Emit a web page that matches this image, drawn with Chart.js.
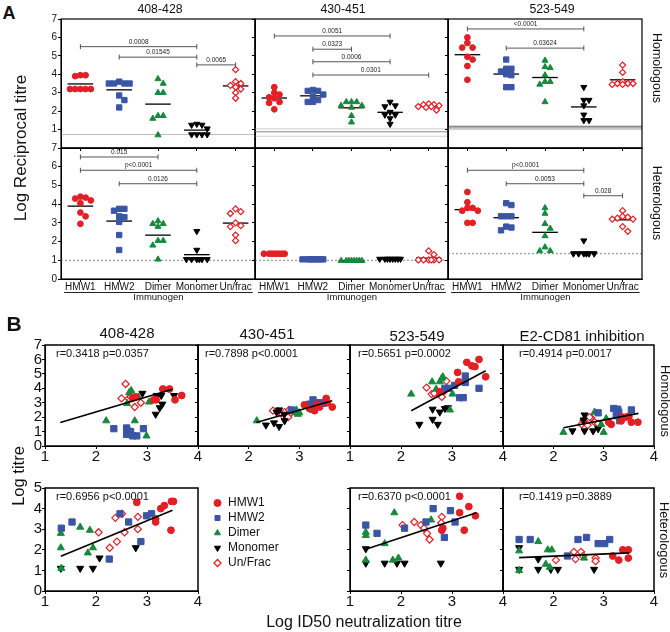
<!DOCTYPE html>
<html><head><meta charset="utf-8">
<script src="https://cdn.jsdelivr.net/npm/chart.js"></script>
<style>
html,body{margin:0;padding:0;background:#fff;}
body{position:relative;width:670px;height:632px;overflow:hidden;font-family:Arial,"Liberation Sans",Helvetica,sans-serif;color:#111;}
canvas{position:absolute;}
.t{position:absolute;white-space:nowrap;line-height:1;}
</style></head><body>
<script>
// ================= DATA =================
const groups = ['HMW1','HMW2','Dimer','Monomer','Un/frac'];
const legendLabels = ['HMW1','HMW2','Dimer','Monomer','Un/Frac'];
const aTitles = ['408-428','430-451','523-549'];
const bTitles = ['408-428','430-451','523-549','E2-CD81 inhibition'];

// Panel A: log reciprocal titre per immunogen group (HMW1, HMW2, Dimer, Monomer, Un/frac)
const aHomo408 = [
  [3.95,3.9,3.95,3.2,3.2,3.2,3.2,3.2],
  [3.6,3.5,3.5,3.5,3.5,2.85,2.6,2.2],
  [3.75,3.5,3.0,3.0,1.75,1.6,1.75,0.7],
  [1.3,1.25,1.25,1.05,0.73,0.73,0.73,0.73],
  [4.25,3.6,3.5,3.4,3.3,3.2,3.0,2.7]
];
const aHomo430 = [
  [3.3,3.0,2.9,2.75,2.7,2.5,2.45,2.1],
  [3.15,3.1,3.1,2.9,2.8,2.6,2.5,2.5],
  [2.5,2.5,2.5,2.3,2.3,2.2,1.75,1.4],
  [2.5,2.3,2.25,1.95,1.8,1.8,1.6,1.3],
  [2.4,2.35,2.35,2.3,2.25,2.25,2.2,2.05]
];
const aHomo523 = [
  [6.0,5.7,5.45,5.45,4.95,4.8,4.45,3.7],
  [4.8,4.3,4.3,4.15,4.0,3.95,3.3,3.3],
  [4.75,4.4,4.35,3.95,3.6,3.6,3.45,2.5],
  [3.3,2.6,2.6,2.3,1.8,1.5,1.5],
  [4.5,4.1,3.6,3.5,3.5,3.5,3.45,3.45]
];
const aHetero408 = [
  [4.4,4.35,4.3,4.2,4.05,3.55,3.35,2.95],
  [3.75,3.75,3.65,3.35,3.3,3.05,2.35,1.55],
  [3.1,2.95,2.95,2.8,2.05,2.05,1.8,1.05],
  [2.55,1.55,1.05,1.05,1.05,1.05,1.05,1.05],
  [3.75,3.6,3.5,3.0,2.85,2.8,2.35,2.05]
];
const aHetero430 = [
  [1.35,1.35,1.35,1.35,1.35,1.35,1.35,1.35],
  [1.05,1.05,1.05,1.05,1.05,1.05,1.05,1.05],
  [0.98,0.98,0.98,0.98,0.98,0.98,0.98,0.98],
  [1.07,1.07,1.07,1.07,1.07,1.07,1.07,1.07],
  [1.5,1.3,1.02,1.02,1.02,1.02,1.02,1.02]
];
const aHetero523 = [
  [4.65,4.1,3.8,3.8,3.65,3.65,3.0,3.0],
  [4.05,3.95,3.35,3.35,3.35,2.8,2.75,2.6],
  [3.8,3.5,2.95,2.7,2.3,1.7,1.5,1.5],
  [2.05,1.35,1.35,1.35,1.35,1.35,1.35],
  [3.65,3.35,3.3,3.25,3.2,3.2,2.8,2.55]
];
// significance brackets: [from, to, level, p-value]
const aHomo408Sig = [['HMW1','Monomer',5.5,'0.0008'],['HMW2','Monomer',4.93,'0.01545'],['Monomer','Un/frac',4.51,'0.0065']];
const aHomo430Sig = [['HMW1','Monomer',6.08,'0.0051'],['HMW2','Dimer',5.36,'0.0323'],['HMW2','Monomer',4.68,'0.0006'],['HMW2','Un/frac',3.96,'0.0301']];
const aHomo523Sig = [['HMW1','Monomer',6.46,'<0.0001'],['HMW2','Monomer',5.42,'0.03624']];
const aHetero408Sig = [['HMW1','Dimer',6.52,'0.015'],['HMW1','Monomer',5.81,'p<0.0001'],['HMW2','Monomer',5.09,'0.0126']];
const aHetero430Sig = [];
const aHetero523Sig = [['HMW1','Monomer',5.81,'p<0.0001'],['HMW2','Monomer',5.09,'0.0053'],['Monomer','Un/frac',4.45,'0.028']];
// detection-limit reference lines
const aHomoLod = [[0.73],[1.04,0.88,0.64],[1.18,1.09,1.0]];
const aHeteroLod = [[1.0],[1.0],[1.35]];

// Panel B: [log ID50 neutralization titre, log titre] per group
const bHomo408 = [
  [[2.72,3.35],[2.78,3.4],[3.13,3.2],[3.18,3.2],[3.31,3.95],[3.44,3.95],[3.55,3.2],[3.68,3.5]],
  [[2.35,1.2],[2.6,1.25],[2.62,1.05],[2.6,0.8],[2.68,1.0],[2.72,0.7],[2.8,0.7],[2.93,1.2]],
  [[2.2,1.75],[2.61,2.95],[2.65,3.7],[2.69,3.85],[2.76,1.75],[2.83,3.4],[3.04,3.05],[2.99,0.7]],
  [[2.91,3.65],[3.19,3.5],[3.28,3.5],[3.53,3.5],[3.3,2.9],[3.25,2.65],[3.17,2.2]],
  [[2.58,4.3],[2.5,3.3],[2.64,3.3],[2.72,3.5],[2.76,2.7],[2.88,3.0],[2.68,3.4]]
];
const bHomo430 = [
  [[3.1,2.85],[3.3,2.45],[3.4,2.7],[3.53,3.3],[3.65,2.7],[3.2,2.6],[3.35,2.9],[3.55,3.0]],
  [[2.84,2.5],[3.2,2.9],[3.26,2.55],[3.27,3.2],[3.47,2.95],[3.3,2.75],[3.4,3.0],[3.22,2.7]],
  [[2.16,1.75],[2.94,2.5],[3.0,2.3],[2.9,2.35],[2.97,2.2]],
  [[2.34,1.45],[2.6,1.35],[2.6,2.5],[2.71,1.75],[2.5,1.6],[2.7,2.2],[2.55,2.35]],
  [[2.48,2.45],[2.64,2.25],[2.71,2.35],[2.78,2.0],[2.84,2.3],[2.8,2.5],[2.58,2.4],[2.9,2.4]]
];
const bHomo523 = [
  [[2.76,3.77],[3.11,5.1],[3.13,4.45],[3.29,5.8],[3.39,5.55],[3.45,5.5],[3.53,6.0],[3.66,4.8]],
  [[2.93,4.0],[2.86,4.0],[3.15,3.35],[3.22,3.35],[3.26,4.4],[3.26,4.85],[3.53,4.0],[3.05,4.2]],
  [[2.2,3.6],[2.61,4.45],[2.76,4.45],[2.82,4.8],[2.69,3.95],[2.96,2.5],[3.01,3.6],[2.8,4.7]],
  [[2.36,1.5],[2.62,1.85],[2.72,1.5],[2.62,2.55],[2.92,2.65],[2.76,2.35],[2.86,2.6]],
  [[2.5,4.05],[2.89,4.5],[2.6,3.6],[2.76,3.55],[2.8,3.4],[2.7,3.7],[2.65,3.65],[2.85,3.8]]
];
const bHomoE2 = [
  [[3.15,1.5],[3.1,1.65],[3.38,2.0],[3.45,2.0],[3.5,2.05],[3.55,1.65],[3.68,1.65],[3.35,1.75]],
  [[2.89,2.3],[3.2,2.6],[3.28,2.55],[3.32,1.75],[3.55,2.5],[3.3,2.35],[3.25,2.1]],
  [[2.2,0.95],[3.0,0.95],[2.82,2.35],[3.05,1.9],[2.95,1.5]],
  [[2.38,1.05],[2.62,2.15],[2.62,1.05],[2.79,1.05],[2.89,1.2],[2.6,1.8]],
  [[2.56,1.5],[2.68,1.45],[2.75,1.95],[2.82,1.65],[2.89,1.55],[2.72,2.0],[2.6,1.75]]
];
const bHetero408 = [
  [[2.8,4.3],[3.27,4.0],[3.34,4.15],[3.48,4.35],[3.52,4.35],[3.17,3.5],[3.17,3.35],[3.47,2.95]],
  [[1.32,3.05],[1.53,3.35],[2.47,3.75],[2.64,3.35],[2.99,3.65],[3.09,3.75],[2.88,2.4],[2.26,1.55]],
  [[1.31,2.8],[1.31,2.1],[1.69,3.1],[1.88,2.95],[1.94,2.1],[1.84,1.85],[1.32,1.1]],
  [[1.31,1.1],[1.69,1.1],[1.94,1.1],[2.07,1.6],[2.78,2.1]],
  [[2.05,2.85],[2.27,2.1],[2.41,2.4],[2.38,3.55],[2.51,3.75],[2.56,2.85],[2.82,3.6],[2.82,3.0]]
];
const bHetero523 = [
  [[2.8,2.95],[3.15,4.6],[3.15,3.8],[3.33,4.1],[3.46,3.65],[3.24,2.95],[2.82,3.05]],
  [[1.31,3.2],[1.53,2.8],[2.07,3.05],[2.49,3.35],[2.63,4.0],[2.85,2.6],[2.97,3.9],[3.06,3.35]],
  [[1.31,2.85],[1.31,2.7],[1.68,2.3],[1.87,3.8],[1.31,1.5],[1.84,1.5],[1.95,1.6],[2.59,3.45]],
  [[1.31,2.05],[1.31,1.35],[1.68,1.35],[1.92,1.35],[2.07,1.35],[2.78,1.35]],
  [[2.03,3.2],[2.26,3.35],[2.39,3.2],[2.51,2.8],[2.56,2.5],[2.8,3.6],[2.79,3.3],[2.45,3.05]]
];
const bHeteroE2 = [
  [[3.18,1.7],[3.3,1.5],[3.38,2.0],[3.49,2.0],[3.49,1.6]],
  [[1.32,2.5],[1.54,2.5],[2.28,1.7],[2.49,2.5],[2.66,2.6],[2.89,2.3],[3.02,2.3],[3.12,2.5]],
  [[1.32,1.95],[1.32,1.0],[1.7,2.4],[1.89,2.0],[1.97,2.0],[1.85,1.3],[1.93,1.15],[2.61,1.6]],
  [[1.32,2.1],[1.32,1.05],[1.7,1.55],[1.7,1.05],[1.95,1.05],[2.09,1.05],[2.81,1.05]],
  [[2.05,1.5],[2.41,1.9],[2.55,1.9],[2.44,1.55],[2.59,1.7],[2.84,1.6],[2.84,1.45]]
];
// regression lines [x0, y0, x1, y1]
const bHomo408Fit = [1.3,1.63,3.5,3.93];
const bHomo430Fit = [2.15,1.63,3.65,3.14];
const bHomo523Fit = [2.2,2.44,3.66,5.21];
const bHomoE2Fit = [2.2,1.26,3.69,2.26];
const bHetero408Fit = [1.31,1.69,3.5,3.92];
const bHetero523Fit = [1.31,2.03,3.48,3.8];
const bHeteroE2Fit = [1.32,1.62,3.51,1.85];
const bStats = ['r=0.3418 p=0.0357','r=0.7898 p<0.0001','r=0.5651 p=0.0002','r=0.4914 p=0.0017',
                'r=0.6956 p<0.0001','r=0.6370 p<0.0001','r=0.1419 p=0.3889'];

// ================= STYLE / LAYOUT =================
const FONT = 'Arial, "Liberation Sans", Helvetica, sans-serif';
Chart.defaults.font.family = FONT;
Chart.defaults.color = '#111';
Chart.defaults.animation = false;
Chart.defaults.events = [];
Chart.defaults.plugins.legend.display = false;
Chart.defaults.plugins.tooltip.enabled = false;

const RED='#e31e25', BLUE='#3a55a4', GREEN='#17893c', BLACK='#000';
const MARK = [
  {ps:'circle',  bg:RED,   bc:RED,   rot:0,   k:1.0,  bw:1},
  {ps:'rect',    bg:BLUE,  bc:BLUE,  rot:0,   k:1.3,  bw:1},
  {ps:'triangle',bg:GREEN, bc:GREEN, rot:0,   k:1.2,  bw:1},
  {ps:'triangle',bg:BLACK, bc:BLACK, rot:180, k:1.2,  bw:1},
  {ps:'rectRot', bg:'#fff',bc:RED,   rot:0,   k:1.05, bw:1.2}
];
function markerOpts(gi, r){
  const m = MARK[gi];
  return {pointStyle:m.ps, pointRotation:m.rot, pointRadius:r*m.k, pointBackgroundColor:m.bg,
          pointBorderColor:m.bc, pointBorderWidth:m.bw, backgroundColor:m.bg, borderColor:m.bc, borderWidth:m.bw};
}
const P = 14;
function mkCanvas(x0,y0,x1,y1,yW,xH){
  const c = document.createElement('canvas');
  const W = Math.round(x1-x0+yW+2*P), H = Math.round(y1-y0+xH+2*P);
  c.width=W; c.height=H;
  c.style.left=(x0-yW-P)+'px'; c.style.top=(y0-P)+'px';
  c.style.width=W+'px'; c.style.height=H+'px';
  document.body.appendChild(c); return c;
}
function txt(s,x,y,size,rot,bold){
  const d=document.createElement('div'); d.className='t'; d.textContent=s;
  d.style.left=x+'px'; d.style.top=y+'px'; d.style.fontSize=size+'px';
  if(bold) d.style.fontWeight='bold';
  d.style.transform='translate(-50%,-50%)'+(rot?' rotate('+rot+'deg)':'');
  document.body.appendChild(d);
}
function swarm(vals, unitPx, s, maxOff){
  const order = vals.map((v,i)=>i).sort((a,b)=>vals[b]-vals[a]);
  const placed=[], offs=new Array(vals.length).fill(0);
  const full=[0]; for(let k=1;k*s<=maxOff+0.01;k++) full.push(k*s,-k*s);
  const all=full.slice(); for(let k=1;(k-0.5)*s<=maxOff+0.01;k++) all.push((k-0.5)*s,-(k-0.5)*s);
  const md=(c,v)=>placed.reduce((m,p)=>Math.min(m,Math.hypot(c-p.o,(v-p.v)*unitPx)),Infinity);
  for(const i of order){
    const v=vals[i]; let best=null;
    for(const c of full){ if(md(c,v)>=s-0.01){best=c;break;} }
    if(best===null){ let bd=-1; for(const c of all){const d=md(c,v); if(d>bd+0.01){bd=d;best=c;}} }
    offs[i]=best; placed.push({o:best,v});
  }
  return offs;
}
const mean = a => a.reduce((s,v)=>s+v,0)/a.length;

function framePlugin(lw){ return {id:'frame', afterDraw(chart){
  const a=chart.chartArea, ctx=chart.ctx; ctx.save(); ctx.strokeStyle='#000'; ctx.lineWidth=lw;
  ctx.strokeRect(a.left,a.top,a.right-a.left,a.bottom-a.top); ctx.restore(); }}; }
function bracketPlugin(list){ return {id:'brackets', afterDatasetsDraw(chart){
  const ctx=chart.ctx, xs=chart.scales.x, ys=chart.scales.y;
  ctx.save(); ctx.strokeStyle='#444'; ctx.fillStyle='#222'; ctx.lineWidth=0.9;
  ctx.font='6.5px '+FONT; ctx.textAlign='center'; ctx.textBaseline='bottom';
  list.forEach(([a,b,v,lab])=>{
    const xa=xs.getPixelForValue(groups.indexOf(a)+1), xb=xs.getPixelForValue(groups.indexOf(b)+1), y=ys.getPixelForValue(v);
    ctx.beginPath(); ctx.moveTo(xa,y-2.5); ctx.lineTo(xa,y+2.5); ctx.moveTo(xa,y); ctx.lineTo(xb,y);
    ctx.moveTo(xb,y-2.5); ctx.lineTo(xb,y+2.5); ctx.stroke();
    ctx.fillText(lab,(xa+xb)/2,y-1.5);
  }); ctx.restore(); }}; }
function immunoPlugin(title){ return {id:'immuno', afterDraw(chart){
  const ctx=chart.ctx, a=chart.chartArea, xs=chart.scales.x; ctx.save();
  ctx.font='10px '+FONT;
  const l=xs.getPixelForValue(1)-ctx.measureText(groups[0]).width/2-1;
  const r=xs.getPixelForValue(5)+ctx.measureText(groups[4]).width/2+1;
  const y=a.bottom+13.5;
  ctx.strokeStyle='#222'; ctx.lineWidth=1; ctx.beginPath(); ctx.moveTo(l,y); ctx.lineTo(r,y); ctx.stroke();
  ctx.font='9.5px '+FONT; ctx.fillStyle='#111'; ctx.textAlign='center'; ctx.textBaseline='middle';
  ctx.fillText(title,(l+r)/2,a.bottom+18.5); ctx.restore(); }}; }
function statPlugin(text,dx){ return {id:'stat', afterDatasetsDraw(chart){
  const ctx=chart.ctx, a=chart.chartArea; ctx.save(); ctx.font='11px '+FONT; ctx.fillStyle='#111';
  ctx.textAlign='left'; ctx.textBaseline='middle'; ctx.fillText(text,a.left+dx,a.top+9); ctx.restore(); }}; }

function linScale(o){
  return {
    type:'linear', position:o.pos==='x'?'bottom':'left', min:o.min, max:o.max, display:true,
    grid:{display:true, drawOnChartArea:false, drawTicks:true, tickLength:3, color:'#000', lineWidth:1},
    border:{display:true, color:'#000', width:1},
    ticks:{display:o.labels, stepSize:1, autoSkip:false, maxRotation:0, minRotation:0, padding:o.pad||0,
           font:{size:o.fs, lineHeight:1}, color:'#111', callback:o.cb||(v=>v)},
    afterBuildTicks: o.ticks ? (s)=>{ s.ticks=o.ticks.map(v=>({value:v})); } : undefined,
    afterFit: o.pos==='x' ? (s)=>{ s.height=o.size; } : (s)=>{ s.width=o.size; }
  };
}

// ---------- Panel A ----------
const A_COLS=[[61,255],[255,448],[448,642]];
const A_ROWS=[[19,148],[148,279]];
const aHomoLodStyle=[[{c:'#bbb'}],[{c:'#ccc'},{c:'#888'},{c:'#ccc'}],[{c:'#666'},{c:'#777'},{c:'#ccc'}]];
function buildA(col,row,vals,sig,lods,lodStyle){
  const [x0,x1]=A_COLS[col], [y0,y1]=A_ROWS[row];
  const yW = col===0?22:4, xH = row===0?4:27;
  const unitPx=(y1-y0)/7, catPx=(x1-x0)/5;
  const ds=[];
  vals.forEach((v,gi)=>{ const offs=swarm(v,unitPx,5.2,10.4);
    ds.push({data:v.map((y,i)=>({x:gi+1+offs[i]/catPx,y})), ...markerOpts(gi,2.9)}); });
  vals.forEach((v,gi)=>{ const m=mean(v);
    ds.push({data:[{x:gi+1-0.33,y:m},{x:gi+1+0.33,y:m}], showLine:true, pointRadius:0, borderColor:'#000', borderWidth:1.3}); });
  lods.forEach((v,i)=>{ const st=lodStyle[i];
    ds.push({data:[{x:0.5,y:v},{x:5.5,y:v}], showLine:true, pointRadius:0, borderColor:st.c, borderWidth:st.w||1, borderDash:st.dash||[]}); });
  const c=mkCanvas(x0,y0,x1,y1,yW,xH);
  const plugins=[bracketPlugin(sig), framePlugin(1.2)];
  if(row===1) plugins.push(immunoPlugin('Immunogen'));
  new Chart(c,{type:'scatter', data:{datasets:ds}, plugins,
    options:{responsive:false, animation:false, layout:{padding:P, autoPadding:false},
      scales:{
        x: linScale({pos:'x', min:0.5, max:5.5, labels:row===1, fs:10, size:xH, ticks:[1,2,3,4,5], cb:v=>groups[v-1]}),
        y: linScale({pos:'y', min:0, max:7, labels:col===0, fs:10, size:yW, pad:1,
                     cb: v => (row===0 && v===0) ? '' : v})
      }}});
}
const heteroLodStyle=[[{c:'#888',dash:[2,2]}],[{c:'#888',dash:[2,2]}],[{c:'#888',dash:[2,2]}]];
buildA(0,0,aHomo408,aHomo408Sig,aHomoLod[0],aHomoLodStyle[0]);
buildA(1,0,aHomo430,aHomo430Sig,aHomoLod[1],aHomoLodStyle[1]);
buildA(2,0,aHomo523,aHomo523Sig,aHomoLod[2],aHomoLodStyle[2]);
buildA(0,1,aHetero408,aHetero408Sig,aHeteroLod[0],heteroLodStyle[0]);
buildA(1,1,aHetero430,aHetero430Sig,aHeteroLod[1],heteroLodStyle[1]);
buildA(2,1,aHetero523,aHetero523Sig,aHeteroLod[2],heteroLodStyle[2]);

// ---------- Panel B ----------
const B_COLS=[[45,198],[198,350],[350,503],[503,654]];
const B_ROWS=[[345,446],[488,591]];
function buildB(col,row,pts,fit,stat,statDx,shown){
  const [x0,x1]=B_COLS[col], [y0,y1]=B_ROWS[row];
  const yW = col===0?22:3, xH=22;
  const ds=[];
  pts.forEach((g,gi)=>ds.push({data:g.map(([x,y])=>({x,y})), ...markerOpts(gi,3.4)}));
  ds.unshift({data:[{x:fit[0],y:fit[1]},{x:fit[2],y:fit[3]}], showLine:true, pointRadius:0, borderColor:'#000', borderWidth:1.6});
  const c=mkCanvas(x0,y0,x1,y1,yW,xH);
  new Chart(c,{type:'scatter', data:{datasets:ds}, plugins:[statPlugin(stat,statDx), framePlugin(1.5)],
    options:{responsive:false, animation:false, layout:{padding:P, autoPadding:false},
      scales:{
        x: linScale({pos:'x', min:1, max:4, labels:true, fs:15, size:xH, ticks:[1,2,3,4], cb:v=>shown.includes(v)?v:''}),
        y: linScale({pos:'y', min:0, max:row===0?7:5, labels:col===0, fs:15, size:yW})
      }}});
}
buildB(0,0,bHomo408,bHomo408Fit,bStats[0],11,[1,2,3,4]);
buildB(1,0,bHomo430,bHomo430Fit,bStats[1],7,[2,3]);
buildB(2,0,bHomo523,bHomo523Fit,bStats[2],8,[1,2,3,4]);
buildB(3,0,bHomoE2,bHomoE2Fit,bStats[3],16,[2,3,4]);
buildB(0,1,bHetero408,bHetero408Fit,bStats[4],11,[1,2,3,4]);
buildB(2,1,bHetero523,bHetero523Fit,bStats[5],8,[1,2,3,4]);
buildB(3,1,bHeteroE2,bHeteroE2Fit,bStats[6],16,[2,3,4]);

// legend
(function(){
  const c=document.createElement('canvas'); c.width=200; c.height=86;
  c.style.left='210px'; c.style.top='494px'; c.style.width='200px'; c.style.height='86px';
  document.body.appendChild(c);
  new Chart(c,{type:'scatter',
    data:{datasets:legendLabels.map((l,gi)=>({label:l, data:[], ...markerOpts(gi,3.2)}))},
    options:{responsive:false, animation:false, layout:{padding:0},
      scales:{x:{display:false},y:{display:false}},
      plugins:{legend:{display:true, position:'left', align:'start',
        labels:{usePointStyle:true, boxWidth:9, boxHeight:5, padding:3, color:'#111', font:{size:12, lineHeight:1}}}}}});
})();

// ---------- text ----------
txt('A',9,13,18,0,true);
txt('B',14,323,21,0,true);
const aTitleX=[160,343,552];
aTitles.forEach((t,i)=>txt(t,aTitleX[i],9,12.3));
txt('Log Reciprocal titre',20,148,17,-90);
txt('Homologous',657,68,12.5,90);
txt('Heterologous',657,203,12.5,90);
const bTitlePos=[[127,332],[267,333],[417,335],[582,335]];
bTitles.forEach((t,i)=>txt(t,bTitlePos[i][0],bTitlePos[i][1],15));
txt('Log titre',18,476,16.5,-90);
txt('Log ID50 neutralization titre',364,622,16);
txt('Homologous',665,401,12.8,90);
txt('Heterologous',664,540,12.8,90);
</script></body></html>
